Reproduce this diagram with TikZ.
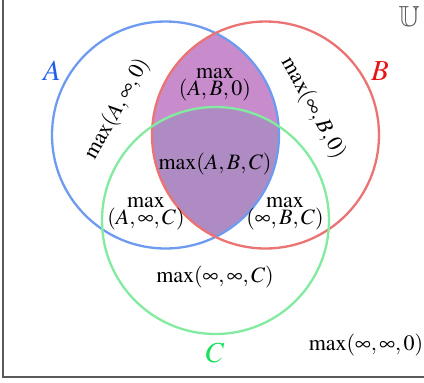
\documentclass[tikz,border=0pt]{standalone}
\usepackage{amssymb}
\usepackage{mathptmx}
\usetikzlibrary{positioning}
\definecolor{setA}{RGB}{110,155,240}
\definecolor{setB}{RGB}{235,115,115}
\definecolor{setC}{RGB}{130,235,160}
\definecolor{nameAcol}{RGB}{30,95,235}
\definecolor{nameBcol}{RGB}{230,20,20}
\definecolor{nameCcol}{RGB}{20,225,90}
\definecolor{lensAB}{RGB}{200,140,205}
\definecolor{lensABC}{RGB}{174,140,195}
\definecolor{frameGray}{RGB}{90,90,90}

\begin{document}
\begin{tikzpicture}[
    x=0.5pt, y=-0.5pt,
    ring/.style={line width=1.15pt},
    region/.style={font=\fontsize{11}{8.7}\selectfont, align=center, inner sep=0pt},
    setname/.style={font=\fontsize{14.5}{14.5}\selectfont, inner sep=0pt}
]
    \useasboundingbox (0,0) rectangle (424,382);

    \coordinate (cA) at (165.5,135);
    \coordinate (cB) at (265.5,135);
    \coordinate (cC) at (215.5,220.5);

    % shaded lens A and B
    \begin{scope}
        \clip (cA) circle (113.5);
        \fill[lensAB] (cB) circle (113.5);
        \begin{scope}
            \clip (cC) circle (113.5);
            \fill[lensABC] (cB) circle (113.5);
        \end{scope}
    \end{scope}

    \draw[ring, setA] (cA) circle (113.5);
    \draw[ring, setB] (cB) circle (113.5);
    \draw[ring, setC] (cC) circle (113.5);

    % frame
    \coordinate (fTop) at (3,0);
    \coordinate (fCorner) at (3,377);
    \coordinate (fRight) at (424,377);
    \draw[frameGray, line width=0.6pt] (fTop) -- (fCorner) -- (fRight);

    \node[setname, text=nameAcol] (nameA) at (52,71) {$A$};
    \node[setname, text=nameBcol] (nameB) at (380,71) {$B$};
    \node[setname, text=nameCcol] (nameC) at (215,353) {$C$};
    \node[setname, text=frameGray] (nameU) at (409,17) {$\mathbb{U}$};

    \node[region, rotate=61] (onlyA) at (117,109) {$\max(A,\infty,0)$};
    \node[region, rotate=-61] (onlyB) at (313,108) {$\max(\infty,B,0)$};
    \node[region] (AB) at (215,85) {$\max$\\$(A,B,0)$};
    \node[region] (ABC) at (215,164) {$\max(A,B,C)$};
    \node[region] (AC) at (146,214) {$\max$\\$(A,\infty,C)$};
    \node[region] (BC) at (285,214) {$\max$\\$(\infty,B,C)$};
    \node[region] (onlyC) at (215,277) {$\max(\infty,\infty,C)$};
    \node[region] (none) at (366,345) {$\max(\infty,\infty,0)$};
\end{tikzpicture}
\end{document}
